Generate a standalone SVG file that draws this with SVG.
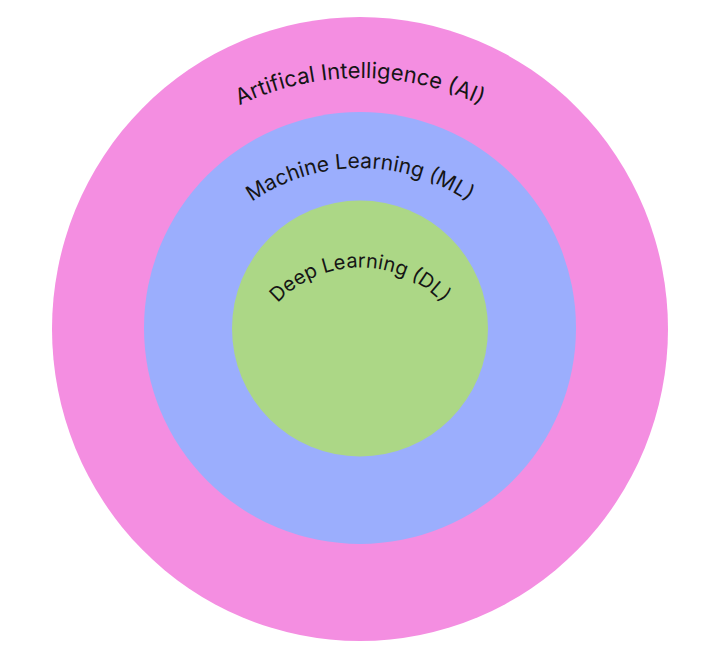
<svg xmlns="http://www.w3.org/2000/svg" width="712" height="660" viewBox="0 0 712 660">
<style>
.lbl{font-family:Inter,"Liberation Sans",sans-serif;fill:#151515;}
</style>
<defs>
<path id="arcAI" d="M 96.9 262.2 A 280 280 0 0 1 623.1 262.2"/>
<path id="arcML" d="M 176.5 308.8 A 190 190 0 0 1 543.5 308.8"/>
<path id="arcDL" d="M 247.4 380 A 112 112 0 0 1 472.6 380"/>
</defs>
<rect width="712" height="660" fill="#ffffff"/>
<g id="ai">
<ellipse cx="360" cy="329" rx="308" ry="312" fill="#F48EE1"/>
<text class="lbl" font-size="22"><textPath href="#arcAI" startOffset="50%" text-anchor="middle">Artifical Intelligence (AI)</textPath></text>
</g>
<g id="ml">
<circle cx="360" cy="328" r="216" fill="#9BAEFD"/>
<text class="lbl" font-size="21"><textPath href="#arcML" startOffset="50%" text-anchor="middle">Machine Learning (ML)</textPath></text>
</g>
<g id="dl">
<circle cx="360" cy="328.5" r="128" fill="#ACD786"/>
<text class="lbl" font-size="20"><textPath href="#arcDL" startOffset="50%" text-anchor="middle">Deep Learning (DL)</textPath></text>
</g>
<g id="connectors"/>
</svg>
